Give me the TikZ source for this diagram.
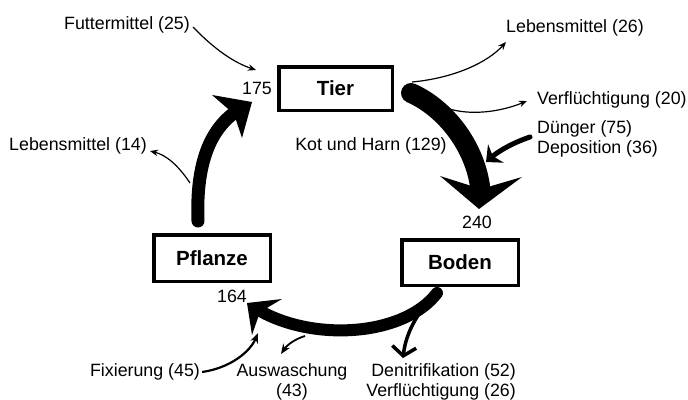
\documentclass[tikz,border=0pt]{standalone}
\usepackage{fontspec}
\setmainfont{Liberation Sans}
\usetikzlibrary{arrows.meta}
\begin{document}
\begin{tikzpicture}[x=1pt,y=-1pt,
  lbl/.style={inner sep=0pt, font=\fontsize{17.8}{20}\selectfont},
  box/.style={draw, line width=3.5pt, inner sep=0pt, font=\fontsize{20.5}{24}\selectfont\bfseries},
  thinarrow/.style={line width=1.2pt, -{Stealth[length=8pt,width=6.5pt]}},
  midarrow/.style={line width=2.2pt, -{Stealth[length=10pt,width=8pt]}},
  bigshaft/.style={line cap=round},
]
\useasboundingbox (0,0) rectangle (688,399);

% boxes
\node[box, minimum width=113.5pt, minimum height=43.5pt] (tier) at (335.5,88.5) {Tier};
\node[box, minimum width=116.5pt, minimum height=45.5pt] (boden) at (460,262.5) {Boden};
\node[box, minimum width=116.5pt, minimum height=46.5pt] (pflanze) at (212,258) {Pflanze};

% numbers
\node[lbl] (n175) at (257,88) {175};
\node[lbl] (n240) at (477,222) {240};
\node[lbl] (n164) at (232,296) {164};

% labels
\node[lbl] (futter) at (127,25) {Futtermittel (25)};
\node[lbl] (leb14) at (78,146) {Lebensmittel (14)};
\node[lbl] (kot) at (371,146) {Kot und Harn (129)};
\node[lbl] (leb26) at (575,28) {Lebensmittel (26)};
\node[lbl, anchor=west] (verf20) at (537,100) {Verflüchtigung (20)};
\node[lbl, anchor=west, align=left] (duenger) at (537,138.5) {Dünger (75)\\Deposition (36)};
\node[lbl] (fix) at (145,372) {Fixierung (45)};
\node[lbl, align=center] (ausw) at (292,382) {Auswaschung\\(43)};
\node[lbl, anchor=east, align=right] (deni) at (516,382) {Denitrifikation (52)\\Verflüchtigung (26)};

% ---- big arrow 1: Pflanze -> Tier
\coordinate (a1s) at (198,221);
\coordinate (a1e) at (234,113);
\draw[bigshaft, line width=13pt] (a1s) .. controls (196,170) and (207,133) .. (a1e);
\fill (212,95) -- (252,102) -- (242,138) -- (234,114) -- cycle;

% ---- big arrow 2: Tier -> Boden
\coordinate (a2s) at (411,93);
\coordinate (a2e) at (480,186);
\draw[bigshaft, line width=20pt] (a2s) .. controls (445,108) and (474,145) .. (a2e);
\fill (440,176) -- (479,209) -- (522,177) -- (481,189) -- cycle;

% ---- big arrow 3: Boden -> Pflanze
\coordinate (a3s) at (437,293);
\coordinate (a3e) at (262,312);
\draw[bigshaft, line width=12pt] (a3s) .. controls (405,335) and (318,342) .. (a3e);
\fill (282,299) -- (247,303) -- (252,335) -- (260,312) -- cycle;

% ---- thin arrows
\coordinate (futEnd) at (256,70);
\draw[thinarrow] (futter.east) ++(3,2) .. controls (215,50) and (235,63) .. (futEnd);

\coordinate (l14s) at (190,183);
\coordinate (l14e) at (150,151);
\draw[thinarrow] (l14s) .. controls (178,165) and (166,155) .. (l14e);

\coordinate (l26s) at (412,82);
\coordinate (l26e) at (506,42);
\draw[thinarrow] (l26s) .. controls (455,78) and (488,62) .. (l26e);

\coordinate (v20s) at (446,108);
\coordinate (v20e) at (527,101);
\draw[thinarrow] (v20s) .. controls (470,116) and (500,112) .. (v20e);

\coordinate (dus) at (530,137);
\coordinate (due) at (486,162);
\draw[line width=5pt, line cap=round, -{Stealth[length=13pt,width=24pt,inset=4pt]}] (dus) .. controls (515,142) and (500,150) .. (due);

\coordinate (fixe) at (258,333);
\draw[midarrow] (fix.east) ++(2,0) .. controls (230,368) and (250,352) .. (fixe);

\coordinate (auss) at (305,336);
\coordinate (ause) at (281,354);
\draw[midarrow, line width=1.8pt] (auss) .. controls (295,339) and (287,345) .. (ause);

\coordinate (dens) at (421,311);
\coordinate (dene) at (403,358);
\draw[line width=3.5pt, -{Straight Barb[length=9pt,width=24pt,line width=3.5pt]}] (dens) .. controls (411,325) and (405,340) .. (dene);

\end{tikzpicture}
\end{document}
